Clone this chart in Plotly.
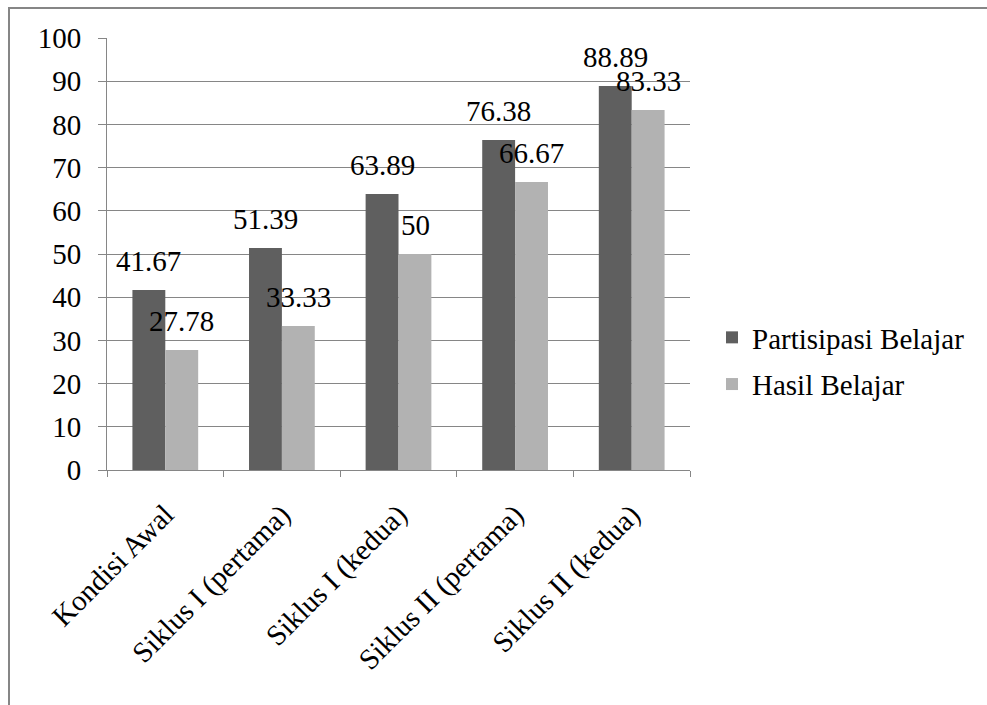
import plotly.graph_objects as go

categories = ["Kondisi Awal", "Siklus I (pertama)", "Siklus I (kedua)", "Siklus II (pertama)", "Siklus II (kedua)"]
partisipasi = [41.67, 51.39, 63.89, 76.38, 88.89]
hasil = [27.78, 33.33, 50, 66.67, 83.33]
y_ticks = list(range(0, 101, 10))

FONT = "Times New Roman, Liberation Serif, serif"
FS = 29
W, H = 987, 705
L, R, T, B = 107, 690, 38, 470

def px_x(x):
    return (x - L) / (R - L)

def px_y(y):
    return (B - y) / (B - T)

fig = go.Figure()
fig.add_trace(go.Bar(name="Partisipasi Belajar", x=categories, y=partisipasi, legendgroup="a",
                     marker=dict(color="#5f5f5f", line=dict(width=0))))
fig.add_trace(go.Bar(name="Hasil Belajar", x=categories, y=hasil, legendgroup="b",
                     marker=dict(color="#b2b2b2", line=dict(width=0))))

annotations = []
for vals, xs in ((partisipasi, -16.5), (hasil, 16.5)):
    for c, v in zip(categories, vals):
        annotations.append(dict(x=c, y=v, xref="x", yref="y", text=f"{v:g}", showarrow=False,
                                xshift=xs, yshift=11, yanchor="bottom", xanchor="center",
                                font=dict(family=FONT, size=FS, color="black")))

fig.update_layout(
    width=W, height=H,
    margin=dict(l=L, r=W - R, t=T, b=H - B, pad=0),
    paper_bgcolor="white", plot_bgcolor="white",
    barmode="group", bargap=0.436, bargroupgap=0,
    font=dict(family=FONT, size=FS, color="black"),
    showlegend=True,
    legend=dict(x=px_x(712), y=px_y(361), xanchor="left", yanchor="middle",
                font=dict(family=FONT, size=FS, color="black"),
                bgcolor="rgba(0,0,0,0)", itemwidth=30, tracegroupgap=6),
    xaxis=dict(showline=True, linecolor="#868686", linewidth=1,
               ticks="outside", tickson="boundaries", ticklen=6, tickcolor="#868686",
               tickangle=-45, tickfont=dict(family=FONT, size=FS, color="black"),
               ticklabelstandoff=15, showgrid=False),
    yaxis=dict(range=[0, 100], tickvals=y_ticks, showline=True, linecolor="#868686", linewidth=1,
               ticks="outside", ticklen=8, tickcolor="#868686",
               showgrid=True, gridcolor="#868686", gridwidth=1, ticklabelstandoff=11,
               tickfont=dict(family=FONT, size=FS, color="black"), zeroline=False),
    annotations=annotations,
    shapes=[dict(type="rect", xref="paper", yref="paper",
                 x0=px_x(9), y0=px_y(760), x1=px_x(1040), y1=px_y(8),
                 line=dict(color="#868686", width=2), fillcolor="rgba(0,0,0,0)", layer="below")],
)

fig.write_html("out.html")
